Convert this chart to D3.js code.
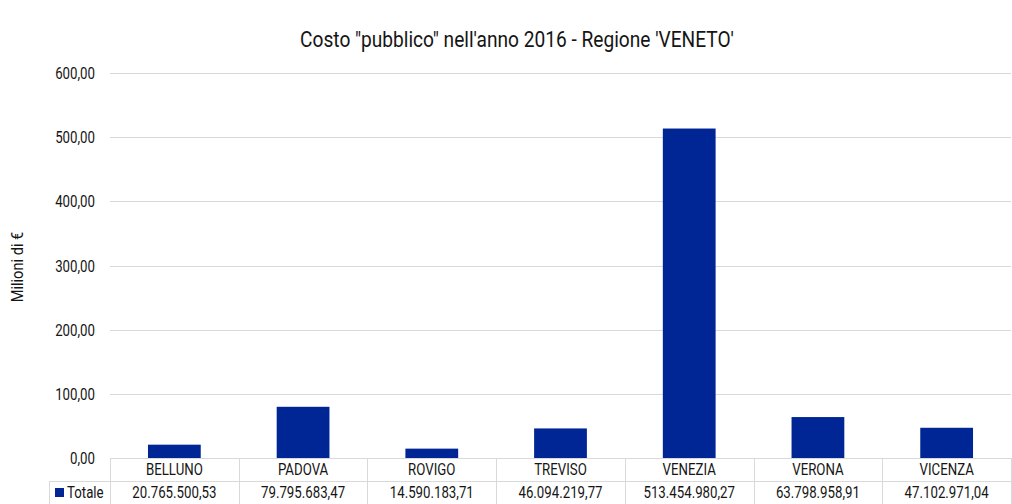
<!DOCTYPE html>
<html><head><meta charset="utf-8">
<script src="https://cdn.jsdelivr.net/npm/d3@7"></script>
<style>
body{margin:0;background:#fff;}
text{font-family:"Roboto","Liberation Sans",sans-serif;fill:#151515;}
</style></head>
<body><svg id="c" width="1012" height="504"></svg>
<script>
const categories = ["BELLUNO","PADOVA","ROVIGO","TREVISO","VENEZIA","VERONA","VICENZA"];
const values = [20765500.53, 79795683.47, 14590183.71, 46094219.77, 513454980.27, 63798958.91, 47102971.04];
const valueLabels = ["20.765.500,53","79.795.683,47","14.590.183,71","46.094.219,77","513.454.980,27","63.798.958,91","47.102.971,04"];
const yTicks = [0,100,200,300,400,500,600];
const seriesName = "Totale";
const title = "Costo \"pubblico\" nell'anno 2016 - Regione 'VENETO'";
const yTitle = "Milioni di €";

(function(){
const svg = d3.select("#c");
const pL = 110, pR = 1011, pT = 73, pB = 458;
const x = d3.scaleBand().domain(categories).range([pL, pR]).paddingInner(0).paddingOuter(0);
const y = d3.scaleLinear().domain([0,600]).range([pB, pT]);
const grid = "#d9d9d9";
const barColor = "#002695";
function ctext(g, tx, ty, str, size, anchor, rot, sx){
  const tr = `translate(${tx},${ty})` + (rot?` rotate(${rot})`:"") + ` scale(${sx||0.78},1)`;
  return g.append("text").attr("transform", tr).attr("dy","0.36em")
    .attr("text-anchor", anchor||"middle").attr("font-size", size).text(str);
}

svg.append("g").selectAll("line").data(yTicks.filter(d=>d>0)).join("line")
  .attr("x1", pL).attr("x2", pR)
  .attr("y1", d=>Math.round(y(d))+0.5).attr("y2", d=>Math.round(y(d))+0.5)
  .attr("stroke", grid).attr("stroke-width",1);

const fmt = d => d3.format(".2f")(d).replace(".", ",");
const yl = svg.append("g");
yTicks.forEach(d => ctext(yl, 95, y(d), fmt(d), 17, "end"));

const bw = x.bandwidth()*0.41;
svg.append("g").selectAll("rect").data(categories).join("rect")
  .attr("x", d=>x(d)+ (x.bandwidth()-bw)/2)
  .attr("width", bw)
  .attr("y", (d,i)=>y(values[i]/1e6))
  .attr("height", (d,i)=>y(0)-y(values[i]/1e6))
  .attr("fill", barColor);

const rowTop = pB, rowMid = 481, rowBot = 504, legLeft = 49;
const t = svg.append("g");
t.append("line").attr("x1",pL).attr("x2",pR).attr("y1",rowTop+0.5).attr("y2",rowTop+0.5).attr("stroke",grid);
t.append("line").attr("x1",legLeft).attr("x2",pR).attr("y1",rowMid+0.5).attr("y2",rowMid+0.5).attr("stroke",grid);
t.append("line").attr("x1",legLeft+0.5).attr("x2",legLeft+0.5).attr("y1",rowMid).attr("y2",rowBot).attr("stroke",grid);
const edges = categories.map(c=>x(c)).concat([pR]);
t.selectAll("line.v").data(edges).join("line").attr("class","v")
  .attr("x1",d=>Math.round(d)+0.5).attr("x2",d=>Math.round(d)+0.5)
  .attr("y1",rowTop).attr("y2",rowBot).attr("stroke",grid);
categories.forEach((c,i)=>{
  ctext(t, x(c)+x.bandwidth()/2, 469, c, 17, "middle");
  ctext(t, x(c)+x.bandwidth()/2, 492, valueLabels[i], 17, "middle");
});
t.append("rect").attr("x",55).attr("y",488).attr("width",9).attr("height",9).attr("fill",barColor);
ctext(t, 67, 492, seriesName, 17, "start");

ctext(svg, 517, 39, title, 22, "middle", 0, 0.87);
ctext(svg, 17, 267, yTitle, 17, "middle", -90, 0.86);
})();
</script></body></html>
